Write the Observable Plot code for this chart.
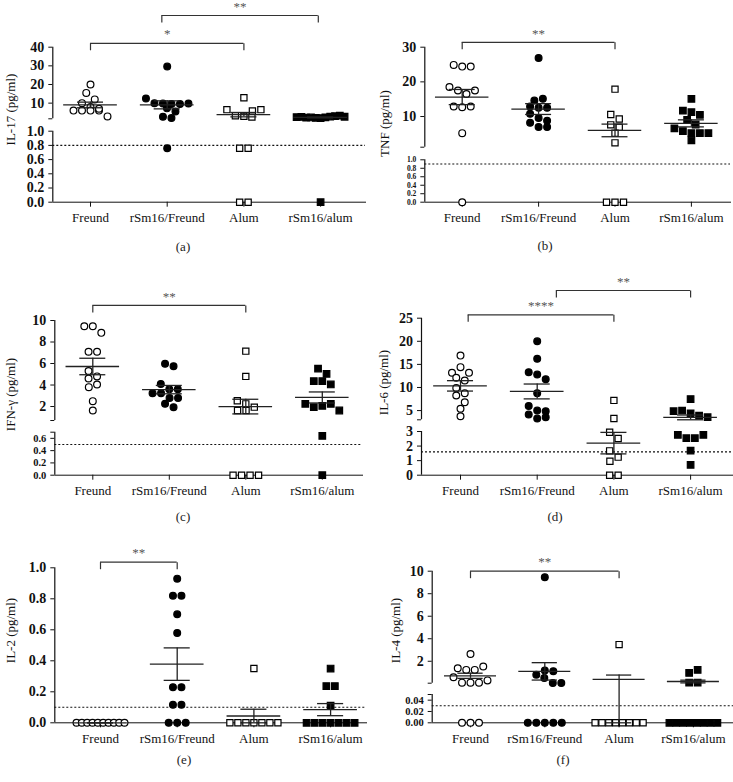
<!DOCTYPE html>
<html><head><meta charset="utf-8">
<script src="https://cdn.jsdelivr.net/npm/d3@7"></script>
<script src="https://cdn.jsdelivr.net/npm/@observablehq/plot@0.6"></script>
<style>
body{margin:0;background:#fff;}
#page{position:relative;width:733px;height:782px;background:#fff;font-family:"Liberation Serif",serif;overflow:hidden;}
.panel{position:absolute;}
.cap{position:absolute;font-size:13px;color:#222;transform:translate(-50%,-50%);white-space:nowrap;}
</style></head><body><div id="page"></div>
<script>
// ---------- data ----------
const categories = ["Freund", "rSm16/Freund", "Alum", "rSm16/alum"];

// (a) IL-17
const il17_freund     = [20, 15.5, 12, 10, 7.9, 6, 6, 6, 6, 7, 2.9];
const il17_rsm16fr    = [29.6, 12.5, 10, 9.8, 9.6, 9.5, 9.8, 7.2, 5.5, 2.7, 2.0, 0.76];
const il17_alum       = [12.9, 6.5, 3.2, 2.6, 3.0, 5.8, 6.5, 0.76, 0.76, 0, 0];
const il17_rsm16alum  = [2.5, 2.6, 2.2, 2.3, 2.1, 2.0, 2.4, 2.8, 3.0, 3.3, 2.7, 0];
// (b) TNF
const tnf_freund      = [24.9, 24.4, 24.4, 18.5, 17.5, 16.5, 17.5, 12.9, 12.7, 12.9, 5.2, 0];
const tnf_rsm16fr     = [26.9, 14.6, 15.1, 12.9, 12.5, 12.5, 10.8, 9.6, 8.8, 8.2, 7, 7];
const tnf_alum        = [17.9, 10.6, 9.3, 7.6, 6.9, 5.2, 2.4, 0, 0, 0];
const tnf_rsm16alum   = [15.1, 11.7, 11.25, 10.5, 9.0, 7.7, 6.6, 5.8, 5.2, 5.2, 5.2, 3.1];
// (c) IFN-γ
const ifn_freund      = [9.47, 9.47, 8.85, 7.1, 7.1, 5.3, 4.8, 4.6, 4.05, 3.8, 2.5, 1.63];
const ifn_rsm16fr     = [5.97, 5.75, 4.1, 3.6, 3.6, 3.24, 3.24, 2.8, 2.8, 2.25, 1.94];
const ifn_alum        = [7.15, 4.8, 2.53, 2.25, 1.94, 1.63, 1.63, 0, 0, 0, 0];
const ifn_rsm16alum   = [5.53, 5.04, 4.36, 4.36, 4.05, 2.25, 1.94, 2.06, 2.25, 1.63, 0.64, 0];
// (d) IL-6
const il6_freund      = [16.9, 13.2, 14.4, 13.2, 12.1, 11.5, 9.9, 8.25, 8.75, 6.8, 5.4, 3.77];
const il6_rsm16fr     = [20.0, 16.2, 13.3, 12.8, 11.8, 8.75, 6.0, 5.0, 4.85, 4.13, 3.27, 3.56];
const il6_alum        = [7.2, 3.27, 2.95, 2.52, 1.67, 1.24, 0.96, 0, 0];
const il6_rsm16alum   = [7.5, 4.86, 5.0, 4.4, 3.9, 3.56, 2.77, 2.54, 2.54, 2.77, 1.69, 0.71];
// (e) IL-2
const il2_freund      = [0, 0, 0, 0, 0, 0, 0, 0, 0, 0];
const il2_rsm16fr     = [0.93, 0.82, 0.82, 0.70, 0.58, 0.23, 0.23, 0.116, 0.116, 0, 0, 0];
const il2_alum        = [0.35, 0, 0, 0, 0, 0, 0, 0];
const il2_rsm16alum   = [0.35, 0.237, 0.237, 0.11, 0, 0, 0, 0, 0, 0, 0];
// (f) IL-4
const il4_freund      = [2.65, 1.38, 1.23, 1.23, 1.53, 0.58, 0.1, 0.1, 0.1, 0.3, 0, 0, 0];
const il4_rsm16fr     = [9.47, 0.81, 1.17, 1.11, 0.52, 0.07, 0.07, 0, 0, 0, 0, 0];
const il4_alum        = [3.48, 0, 0, 0, 0, 0, 0, 0, 0];
const il4_rsm16alum   = [0.96, 1.23, 0.1, 0.1, 0, 0, 0, 0, 0, 0, 0, 0];

const titles = ["IL-17 (pg/ml)", "TNF (pg/ml)", "IFN-\u03b3 (pg/ml)", "IL-6 (pg/ml)", "IL-2 (pg/ml)", "IL-4 (pg/ml)"];
const captions = ["(a)", "(b)", "(c)", "(d)", "(e)", "(f)"];
const thresholds = [0.8, 0.9, 0.5, 1.6, 0.1, 0.03];

// axis domains (piecewise for broken axes) and tick values
const yDomains = [[0, 1, 1.6, 40], [0, 1, 1.15, 30], [0, 0.7, 0.7001, 10], [0, 3, 3.0001, 25], [0, 1], [0, 0.05, 0.0501, 10]];
const lowerTicks = [[0, 0.2, 0.4, 0.6, 0.8, 1], [0, 0.2, 0.4, 0.6, 0.8, 1], [0, 0.2, 0.4, 0.6], [0, 1, 2, 3], [0, 0.2, 0.4, 0.6, 0.8, 1], [0, 0.02, 0.04]];
const lowerDigits = [1, 1, 1, 0, 1, 2];
const upperTicks = [[10, 20, 30, 40], [10, 20, 30], [2, 4, 6, 8, 10], [5, 10, 15, 20, 25], [], [2, 4, 6, 8, 10]];
const breakTicks = [[1.6], [1.15], [0.7, 0.7001], [3.0001], [], [0.05, 0.0501]];

// significance brackets (category index positions, height in axis units)
const brackets = [
  [{from: 0, to: 2, y: 42.1, label: "*"}, {from: 0.93, to: 2.97, y: 57, label: "**"}],
  [{from: 0, to: 2, y: 31.4, label: "**"}],
  [{from: 0, to: 2, y: 11.4, label: "**"}],
  [{from: 0.1, to: 2, y: 25.74, label: "****"}, {from: 1.25, to: 3, y: 31.0, label: "**"}],
  [{from: 0, to: 1, y: 1.036, label: "**"}],
  [{from: 0, to: 2, y: 10, label: "**"}]
];

const panelData = [
  [il17_freund, il17_rsm16fr, il17_alum, il17_rsm16alum],
  [tnf_freund, tnf_rsm16fr, tnf_alum, tnf_rsm16alum],
  [ifn_freund, ifn_rsm16fr, ifn_alum, ifn_rsm16alum],
  [il6_freund, il6_rsm16fr, il6_alum, il6_rsm16alum],
  [il2_freund, il2_rsm16fr, il2_alum, il2_rsm16alum],
  [il4_freund, il4_rsm16fr, il4_alum, il4_rsm16alum]
];

// ---------- layout (page pixels) ----------
const layouts = [
  {left: 0,   top: 0,   width: 366, height: 232, axisX: 52.3,  xRight: 365, i0: 90,    step: 76.7, yPx: [201.7, 130.7, 118.3, 46.7], titleX: 10,  titleY: 109, cap: [183, 247], lowerFont: 14},
  {left: 366, top: 0,   width: 367, height: 232, axisX: 424.3, xRight: 730, i0: 461.7, step: 76.4, yPx: [201.7, 159.3, 146.7, 46.7], titleX: 384, titleY: 123, cap: [545, 246], lowerFont: 7.5, squeezeLower: true},
  {left: 0,   top: 250, width: 366, height: 250, axisX: 54.3,  xRight: 362, i0: 92.3,  step: 76.5, yPx: [474.7, 431.7, 420, 320],    titleX: 10,  titleY: 394, cap: [183, 517], lowerFont: 10.5},
  {left: 366, top: 250, width: 367, height: 250, axisX: 421,   xRight: 733, i0: 460,   step: 76.7, yPx: [474.7, 431, 419.3, 317.7],  titleX: 383, titleY: 382, cap: [555, 517], lowerFont: 14},
  {left: 0,   top: 510, width: 366, height: 240, axisX: 54.3,  xRight: 366, i0: 100,   step: 76.7, yPx: [722.3, 567.3],              titleX: 10,  titleY: 630, cap: [184, 760], lowerFont: 14},
  {left: 366, top: 510, width: 367, height: 240, axisX: 431.7, xRight: 733, i0: 470,   step: 74.3, yPx: [722.3, 694, 682.7, 570.7],  titleX: 395, titleY: 630, cap: [563, 760], lowerFont: 10.5}
];

const dotStyles = [
  {symbol: "circle", fill: "white", r: 3.4},
  {symbol: "circle", fill: "black", r: 3.4},
  {symbol: "square", fill: "white", r: 3.5},
  {symbol: "square", fill: "black", r: 3.7}
];
const legSymbol = {draw(ctx) { ctx.moveTo(0, 0); ctx.lineTo(0, 7); }};

const page = document.getElementById("page");

function buildPanel(k) {
  const L = layouts[k];
  const yDomain = yDomains[k];
  const yRange = L.yPx.map(v => v - L.top);
  const ml = L.axisX - L.left, mr = L.left + L.width - L.xRight;
  const mt = yRange[yRange.length - 1], mb = L.height - yRange[0];
  const xDomain = [(L.axisX - L.i0) / L.step, (L.xRight - L.i0) / L.step];
  const ys = d3.scaleLinear().domain(yDomain).range(yRange);
  const diam = 7;
  const points = [], stats = [];
  panelData[k].forEach((vals, gi) => {
    const pts = vals.map((v, i) => ({v, i, py: ys(v), off: 0}));
    const sorted = pts.slice().sort((a, b) => a.py - b.py || a.i - b.i);
    const rows = []; let cur = null;
    for (const q of sorted) {
      if (!cur || q.py - cur.start > diam) { cur = {start: q.py, pts: []}; rows.push(cur); }
      cur.pts.push(q);
    }
    const placed = [];
    for (const row of rows) {
      row.pts.sort((a, b) => a.i - b.i);
      const n = row.pts.length, sp = n > 1 ? Math.min(8.5, 48 / (n - 1)) : 0;
      const base = row.pts.map((q, j) => (j - (n - 1) / 2) * sp);
      let shift = 0;
      for (const s of [0, 4, -4, 8, -8, 12, -12]) {
        const ok = row.pts.every((q, j) => placed.every(o => Math.hypot(base[j] + s - o.off, q.py - o.py) >= diam * 0.85));
        if (ok) { shift = s; break; }
      }
      row.pts.forEach((q, j) => { q.off = base[j] + shift; placed.push(q); });
    }
    pts.forEach(q => points.push({g: gi, x: gi + q.off / L.step, y: q.v}));
    const m = d3.mean(vals), sem = d3.deviation(vals) / Math.sqrt(vals.length);
    stats.push({i: gi, mean: m, lo: Math.max(0, m - sem), hi: m + sem});
  });

  const lowerLabels = lowerTicks[k].map(t => ({v: t, label: t.toFixed(lowerDigits[k])}));
  const upperLabels = upperTicks[k].map(t => ({v: t, label: t.toFixed(0)}));
  const allTicks = [...new Set([...lowerTicks[k], ...upperTicks[k], ...breakTicks[k]])];

  const segs = yDomain.length === 4
    ? [{y1: yDomain[0], y2: yDomain[1]}, {y1: yDomain[2], y2: yDomain[3]}]
    : [{y1: yDomain[0], y2: yDomain[1]}];

  const bEnds = brackets[k].flatMap(b => [{x: b.from, y: b.y}, {x: b.to, y: b.y}]);
  const lineColor = "#222";
  const tickText = {x: xDomain[0], y: "v", text: "label", textAnchor: "end", dx: -8.5, fill: "#111", fontWeight: "bold"};

  const svg = Plot.plot({
    width: L.width, height: L.height,
    marginLeft: ml, marginRight: mr, marginTop: mt, marginBottom: mb,
    style: {background: "transparent", fontFamily: "'Liberation Serif', serif", fontSize: "13px", color: "#111", overflow: "visible"},
    x: {type: "linear", domain: xDomain, ticks: [0, 1, 2, 3], tickFormat: i => categories[i], tickSize: 5, tickPadding: 6, line: true, label: null},
    y: {type: "linear", domain: yDomain, range: yRange, ticks: allTicks, tickFormat: () => "", tickSize: 4, tickPadding: 0, label: null},
    marks: [
      Plot.ruleY([thresholds[k]], {stroke: "#111", strokeWidth: 1.1, strokeDasharray: "2,2"}),
      Plot.ruleX(segs, {x: xDomain[0], y1: "y1", y2: "y2", stroke: "#111", strokeWidth: 1.2}),
      ...dotStyles.map((s, gi) => Plot.dot(points.filter(d => d.g === gi), {
        x: "x", y: "y", r: s.r, symbol: s.symbol, fill: s.fill, stroke: "black", strokeWidth: 1.2
      })),
      Plot.ruleY(stats, {y: "mean", x1: d => d.i - 0.35, x2: d => d.i + 0.35, stroke: lineColor, strokeWidth: 1.3}),
      Plot.ruleX(stats, {x: "i", y1: "lo", y2: "hi", stroke: lineColor, strokeWidth: 1.3}),
      Plot.ruleY(stats, {y: "hi", x1: d => d.i - 0.17, x2: d => d.i + 0.17, stroke: lineColor, strokeWidth: 1.3}),
      Plot.ruleY(stats, {y: "lo", x1: d => d.i - 0.17, x2: d => d.i + 0.17, stroke: lineColor, strokeWidth: 1.3}),
      Plot.ruleY(brackets[k], {y: "y", x1: "from", x2: "to", stroke: "#333", strokeWidth: 1.2}),
      Plot.dot(bEnds, {x: "x", y: "y", symbol: legSymbol, fill: "none", stroke: "#333", strokeWidth: 1.2}),
      Plot.text(brackets[k], {x: d => (d.from + d.to) / 2, y: "y", text: "label", dy: -9, fill: "#555", fontSize: 13}),
      Plot.text(upperLabels, {...tickText, fontSize: 14}),
      Plot.text(lowerLabels, {...tickText, fontSize: L.lowerFont, ariaLabel: L.squeezeLower ? "squeezed" : "lower-ticks"}),
      Plot.text([titles[k]], {frameAnchor: "left", textAnchor: "middle", lineAnchor: "middle", dx: L.titleX - L.axisX, dy: (L.titleY - L.top) - (mt + (L.height - mb)) / 2, rotate: -90, fontSize: 13, fill: "#111"})
    ]
  });
  svg.classList.add("panel");
  svg.style.left = L.left + "px";
  svg.style.top = L.top + "px";
  svg.style.maxWidth = "none";
  svg.querySelectorAll('g[aria-label="squeezed"] text').forEach(t => {
    t.setAttribute("textLength", "14");
    t.setAttribute("lengthAdjust", "spacingAndGlyphs");
  });
  page.appendChild(svg);

  const cap = document.createElement("div");
  cap.className = "cap";
  cap.textContent = captions[k];
  cap.style.left = L.cap[0] + "px";
  cap.style.top = L.cap[1] + "px";
  page.appendChild(cap);
}

for (let k = 0; k < 6; k++) buildPanel(k);
</script>
</body></html>
